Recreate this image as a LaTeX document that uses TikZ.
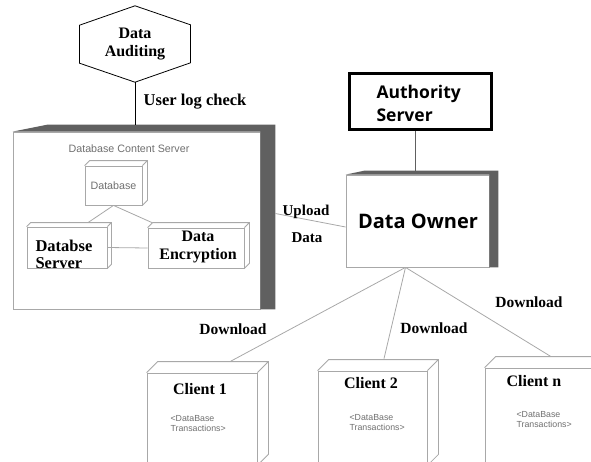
\documentclass[tikz,border=0pt]{standalone}
\usepackage{fontspec}
\setmainfont{Liberation Serif}
\setsansfont{Liberation Sans}
\newfontfamily\headfont{Open Sans}
\definecolor{bandgray}{HTML}{606060}
\definecolor{edgegray}{HTML}{A8A8A8}
\definecolor{notegray}{HTML}{707070}

\begin{document}
\begin{tikzpicture}[x=1pt,y=-1pt]
            \tikzset{
            lbl/.style={font=\bfseries\fontsize{16}{18}\selectfont,align=center},
            dl lbl/.style={font=\bfseries\fontsize{15.5}{17}\selectfont},
            head/.style={font=\headfont\bfseries\fontsize{17.5}{23}\selectfont,align=left},
            note/.style={font=\sffamily\fontsize{10.7}{12}\selectfont,text=notegray},
            small note/.style={font=\sffamily\fontsize{8.8}{10}\selectfont,text=notegray,align=left,anchor=west},
            box node/.style={draw=edgegray,fill=white,inner sep=0,line width=0.8pt},
            link/.style={draw=edgegray,line width=0.8pt}
            }
            \useasboundingbox (0,0) rectangle (591,461);

            \node[minimum width=111,minimum height=76,lbl] (aud) at (135,44) {Data\\Auditing};
            \draw[line width=0.8pt] (aud.north) -- ++(55.5,19) -- ++(0,38) -- (aud.south) -- ++(-55.5,-19) -- ++(0,-38) -- cycle;

            \node[box node,minimum width=247,minimum height=177] (dcs) at (136.5,220.5) {};
            \fill[bandgray] (dcs.north west) -- ++(35,-7) -- ([shift={(15,-7)}]dcs.north east) -- ([xshift=15]dcs.south east) -- (dcs.south east) -- (dcs.north east) -- cycle;
            \node[note] (dcs title) at (129,149) {Database Content Server};
            \node[box node,minimum width=57,minimum height=39] (db) at (113.5,185.5) {};
            \node[note] at (db) {Database};
            \node[box node,minimum width=80,minimum height=41] (srv) at (67,247.5) {};
            \node[box node,minimum width=96,minimum height=40] (enc) at (196,248) {};
            \node[lbl,font=\bfseries\fontsize{16.5}{17}\selectfont,align=left,anchor=west] (srv text) at (32,254.5) {Databse\\Server};
            \node[lbl,font=\bfseries\fontsize{16}{18}\selectfont] (enc text) at (198,246.5) {Data\\Encryption};

            \node[draw,line width=3pt,minimum width=142,minimum height=56] (auth) at (420.5,101.5) {};
            \node[head,anchor=west] (auth text) at (373,103.5) {Authority\\Server};
            \node[box node,minimum width=143,minimum height=92] (own) at (417.5,221) {};
            \fill[bandgray] (own.north west) -- ++(19,-4) -- ([shift={(9,-4)}]own.north east) -- ([xshift=9]own.south east) -- (own.south east) -- (own.north east) -- cycle;
            \node[head,font=\headfont\bfseries\fontsize{20}{24}\selectfont] at (418,221) {Data Owner};

            \node[box node,minimum width=110,minimum height=92] (c1) at (202,419) {};
            \node[box node,minimum width=109,minimum height=94] (c2) at (372.5,418) {};
            \node[box node,minimum width=110,minimum height=97] (cn) at (540,416.5) {};
            \node[lbl] at (200,389) {Client 1};
            \node[lbl] at (371,383) {Client 2};
            \node[lbl] at (534,381) {Client n};
            \node[small note] at (167,424) {<DataBase\\Transactions>};
            \node[small note] at (346,423) {<DataBase\\Transactions>};
            \node[small note] at (513,420) {<DataBase\\Transactions>};

            \foreach \n/\d in {db/5,srv/4,enc/5,c1/11,c2/11,cn/11}
              \draw[link] (\n.north west) -- ++(\d,-\d) -- ([shift={(\d,-\d)}]\n.north east) -- ([shift={(\d,-\d)}]\n.south east) -- (\n.south east) (\n.north east) -- ++(\d,-\d);

            \coordinate (dcs top) at ([yshift=7]dcs.north);
            \coordinate (own top) at ([yshift=4]own.north);
            \coordinate (own out) at ([xshift=-12]own.south);

            \draw[line width=0.8pt] (aud.south) -- (aud.south |- dcs top);
            \draw[draw=bandgray,line width=1.2pt] ([xshift=-5]auth.south) -- ([xshift=-5]auth.south |- own top);
            \path[link]
            (db.south) edge ([shift={(21,-4)}]srv.north)
            (db.south) edge ([shift={(-44,-5)}]enc.north)
            (srv.east) edge (enc.west)
            ([shift={(15,-7)}]dcs.east) edge ([yshift=-6]own.west)
            (own out) edge ([shift={(28,-11)}]c1.north)
            (own out) edge ([shift={(11.5,-12)}]c2.north)
            (own out) edge ([shift={(11,-11)}]cn.north)
            ;

            \node[lbl,font=\bfseries\fontsize{16.5}{18}\selectfont] at (195,102) {User log check};
            \node[dl lbl,font=\bfseries\fontsize{15}{16}\selectfont] at (306,212) {Upload};
            \node[dl lbl,font=\bfseries\fontsize{15}{16}\selectfont] at (307,238) {Data};
            \node[dl lbl] at (233,329) {Download};
            \node[dl lbl] at (434,328) {Download};
            \node[dl lbl] at (529,302) {Download};
\end{tikzpicture}
\end{document}
